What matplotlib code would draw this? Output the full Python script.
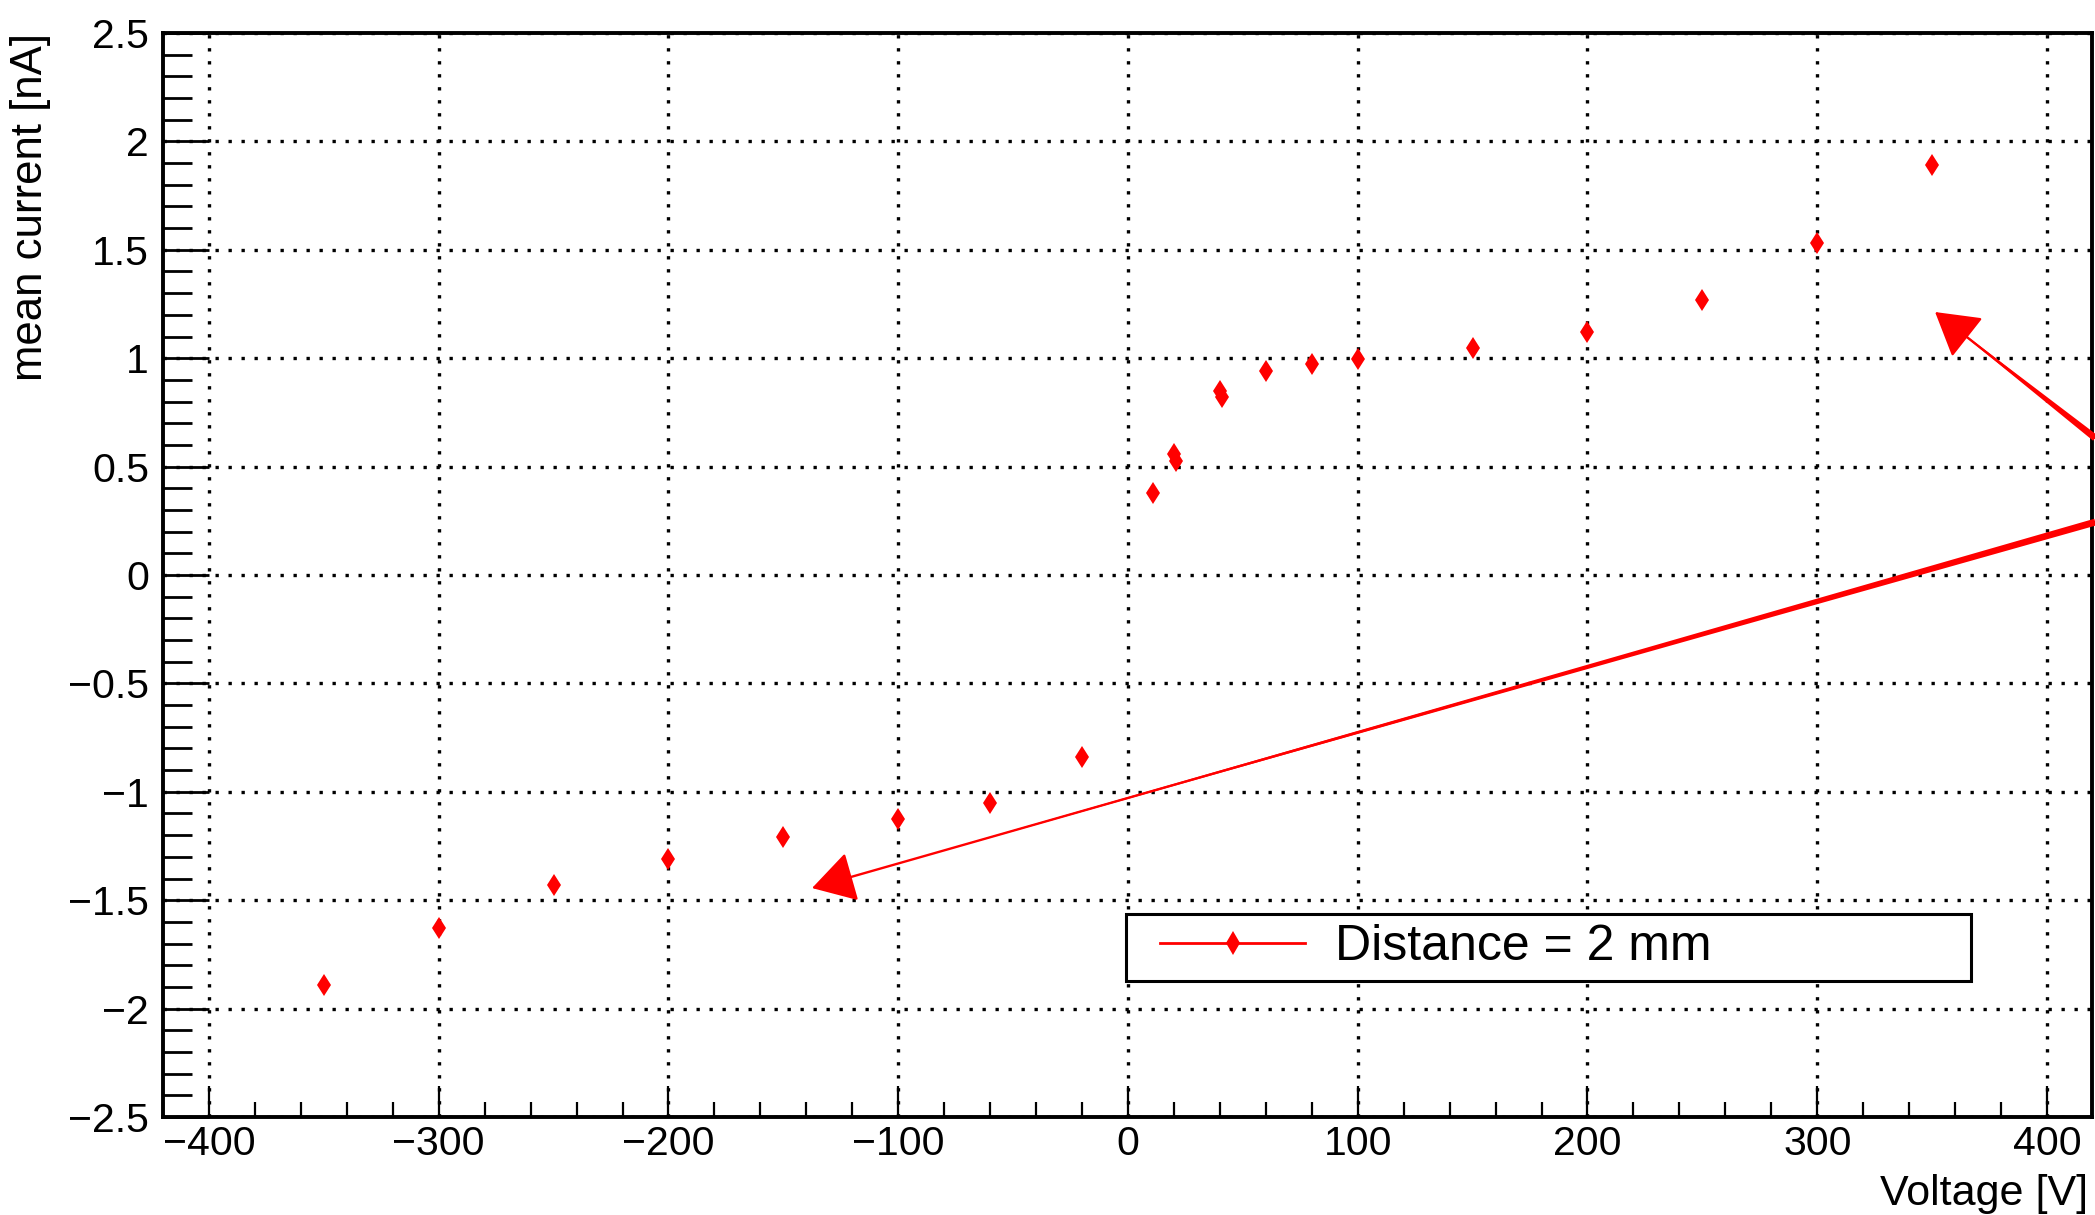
import matplotlib
matplotlib.use("Agg")
import matplotlib.pyplot as plt
from matplotlib.ticker import MultipleLocator
from matplotlib.lines import Line2D
from matplotlib.patches import Rectangle
from matplotlib import font_manager

# ---------------- data ----------------
voltage = [-350, -300, -250, -200, -150, -100, -60, -20,
           11, 20, 21, 40, 41, 60, 80, 100, 150, 200, 250, 300, 350]
current = [-1.89, -1.63, -1.43, -1.31, -1.21, -1.125, -1.05, -0.84,
           0.38, 0.558, 0.526, 0.85, 0.82, 0.943, 0.973, 0.995, 1.046,
           1.12, 1.27, 1.53, 1.89]
series_label = "Distance = 2 mm"
x_label = "Voltage [V]"
y_label = "mean current [nA]"
x_ticks = [-400, -300, -200, -100, 0, 100, 200, 300, 400]
y_ticks = [-2.5, -2, -1.5, -1, -0.5, 0, 0.5, 1, 1.5, 2, 2.5]

# annotation arrows (tail -> head), data coordinates
arrow_tails = [(421, 0.244), (421, 0.632)]
arrow_heads = [(-137.5, -1.444), (351.3, 1.213)]

# ---------------- style ----------------
names = {f.name for f in font_manager.fontManager.ttflist}
base_font = "Liberation Sans" if "Liberation Sans" in names else "DejaVu Sans"
plt.rcParams["font.family"] = [base_font, "DejaVu Sans"]

W, H = 2095, 1215
fig = plt.figure(figsize=(W / 100, H / 100), dpi=100)
ax_l, ax_r, ax_t, ax_b = 163, 2092, 33, 1117
axw, axh = ax_r - ax_l, ax_b - ax_t
ax = fig.add_axes([ax_l / W, 1 - ax_b / H, axw / W, axh / H])

red = "#ff0000"
ax.plot(voltage, current, linestyle="none", marker="d", markersize=11.5,
        color=red, markeredgewidth=0, label=series_label, zorder=5)

ax.set_xlim(-420, 419.6)
ax.set_ylim(-2.5, 2.5)
ax.set_xticks(x_ticks)
ax.set_yticks(y_ticks)
ax.xaxis.set_minor_locator(MultipleLocator(20))
ax.yaxis.set_minor_locator(MultipleLocator(0.1))
ax.set_yticklabels([("%g" % v).replace("-", "\u2212") for v in y_ticks])
ax.set_xticklabels([("%g" % v).replace("-", "\u2212") for v in x_ticks])

ax.tick_params(axis="x", which="major", direction="in", length=22, width=1.6,
               labelsize=29.5, pad=6, top=False)
ax.tick_params(axis="x", which="minor", direction="in", length=11, width=1.6, top=False)
ax.tick_params(axis="y", which="major", direction="in", length=33, width=2,
               labelsize=29.5, pad=10, right=False)
ax.tick_params(axis="y", which="minor", direction="in", length=21, width=2, right=False)

for s in ax.spines.values():
    s.set_linewidth(2.8)

ax.grid(True, which="major", color="black", linewidth=2.4,
        linestyle=(0, (1, 2.9)))
ax.set_axisbelow(False)

# arrows
for tail, head in zip(arrow_tails, arrow_heads):
    ax.annotate("", xy=head, xytext=tail,
                arrowprops=dict(arrowstyle="wedge,tail_width=5,shrink_factor=0.5",
                                mutation_scale=1, color=red, lw=0,
                                shrinkA=0, shrinkB=0),
                annotation_clip=False, zorder=6)
    ax.annotate("", xy=head, xytext=tail,
                arrowprops=dict(arrowstyle="-|>,head_length=27,head_width=16",
                                mutation_scale=1, color=red, lw=1.7,
                                shrinkA=0, shrinkB=0),
                annotation_clip=False, zorder=6)

# legend (box drawn explicitly, ROOT TLegend style)
bx0, by0, bx1, by1 = 1126, 914, 1971, 981
box = Rectangle(((bx0 - ax_l) / axw, (ax_b - by1) / axh),
                (bx1 - bx0) / axw, (by1 - by0) / axh,
                transform=ax.transAxes, facecolor="white", edgecolor="black",
                linewidth=2.2, zorder=7, clip_on=False)
ax.add_patch(box)
handle = Line2D([], [], color=red, lw=2.0, marker="d", markersize=12,
                markeredgewidth=0)
leg = ax.legend([handle], [series_label], loc="center left",
                bbox_to_anchor=((1160 - ax_l) / axw, (ax_b - (by0 + by1) / 2) / axh),
                borderaxespad=0, borderpad=0, frameon=False,
                prop={"size": 36}, handlelength=2.9, handletextpad=0.6)
leg.set_zorder(8)

# axis titles (ROOT style: right / top aligned)
fig.text(2088 / W, 1 - 1205 / H, x_label, ha="right", va="baseline", fontsize=31)
fig.text(31 / W, 1 - ax_t / H, y_label, ha="center", va="top", rotation=90,
         fontsize=31.5)

fig.savefig("out.png", dpi=100)
